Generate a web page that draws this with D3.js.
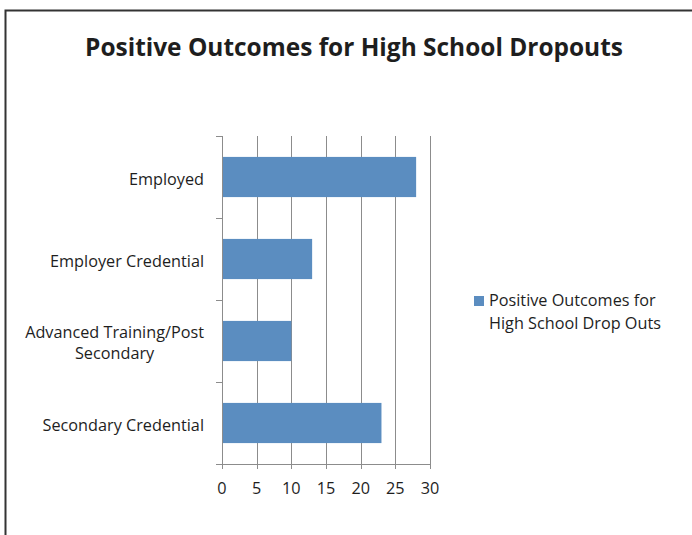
<!DOCTYPE html>
<html><head><meta charset="utf-8">
<script src="https://cdn.jsdelivr.net/npm/d3@7/dist/d3.min.js"></script>
<style>body{margin:0;background:#fff}svg{display:block}text{font-family:"Open Sans",Lato,sans-serif;fill:#1e1e1e}</style>
</head><body><svg id="c" width="692" height="535"></svg>
<script>
const title = "Positive Outcomes for High School Dropouts";
const categories = ["Employed", "Employer Credential", "Advanced Training/Post Secondary", "Secondary Credential"];
const categoryLines = [["Employed"], ["Employer Credential"], ["Advanced Training/Post", "Secondary"], ["Secondary Credential"]];
const values = [28, 13, 10, 23];
const xTicks = [0, 5, 10, 15, 20, 25, 30];
const seriesName = ["Positive Outcomes for", "High School Drop Outs"];

const svg = d3.select("#c");
function fit(sel, target) {
  const w = sel.node().getComputedTextLength();
  const fs = parseFloat(sel.style("font-size"));
  return fs * target / w;
}
// border (top and left)
svg.append("path").attr("d", "M5.5,535 V10.5 H692").attr("fill", "none").attr("stroke", "#333").attr("stroke-width", 2);

const t = svg.append("text").attr("x", 354).attr("y", 56).attr("text-anchor", "middle")
  .style("font-size", "22px").style("font-weight", "bold").text(title);
t.style("font-size", fit(t, 538) + "px");

const x = d3.scaleLinear().domain([0, 30]).range([222, 430]);
const y = d3.scaleBand().domain(categories).range([136, 464]).paddingInner(0.51).paddingOuter(0.255);

// gridlines
svg.append("g").selectAll("line").data(xTicks.slice(1)).join("line")
  .attr("x1", d => Math.round(x(d)) + 0.5).attr("x2", d => Math.round(x(d)) + 0.5)
  .attr("y1", 136).attr("y2", 464).attr("stroke", "#8c8c8c").attr("stroke-width", 1);

// bars
svg.append("g").selectAll("rect").data(values).join("rect")
  .attr("x", x(0)).attr("y", (d, i) => y(categories[i]))
  .attr("width", d => x(d) - x(0)).attr("height", y.bandwidth())
  .attr("fill", "#5b8dc0");

// y axis line and ticks
const bandStep = (464 - 136) / categories.length;
svg.append("line").attr("x1", 222.5).attr("x2", 222.5).attr("y1", 136).attr("y2", 468).attr("stroke", "#8c8c8c");
svg.append("g").selectAll("line").data(d3.range(categories.length + 1)).join("line")
  .attr("x1", 216).attr("x2", 222).attr("y1", i => Math.round(136 + i * bandStep) + 0.5).attr("y2", i => Math.round(136 + i * bandStep) + 0.5)
  .attr("stroke", "#8c8c8c");
// x axis line
svg.append("line").attr("x1", 216).attr("x2", 430).attr("y1", 464.5).attr("y2", 464.5).attr("stroke", "#8c8c8c");
svg.append("g").selectAll("line").data(xTicks).join("line")
  .attr("x1", d => Math.round(x(d)) + 0.5).attr("x2", d => Math.round(x(d)) + 0.5)
  .attr("y1", 464).attr("y2", 469).attr("stroke", "#8c8c8c");

// measure label font size
const probe = svg.append("text").style("font-size", "14px").text("Employer Credential");
const lfs = fit(probe, 154);
probe.remove();

// x tick labels
svg.append("g").selectAll("text").data(xTicks).join("text")
  .attr("x", d => x(d)).attr("y", 494).attr("text-anchor", "middle")
  .style("font-size", lfs + "px").text(d => d);

// category labels: block right-aligned at 204, lines centered within block
const cl = svg.append("g").selectAll("text").data(categories).join("text")
  .attr("text-anchor", "middle").style("font-size", lfs + "px")
  .attr("y", (d, i) => y(d) + y.bandwidth() / 2 + 8 - (categoryLines[i].length - 1) * 11);
cl.each(function (d, i) {
  const el = d3.select(this);
  el.selectAll("tspan").data(categoryLines[i]).join("tspan")
    .attr("dy", (t, j) => j === 0 ? 0 : 21).text(t => t);
  let maxW = 0;
  el.selectAll("tspan").each(function () { maxW = Math.max(maxW, this.getComputedTextLength()); });
  el.selectAll("tspan").attr("x", 204 - maxW / 2);
});

// legend
svg.append("rect").attr("x", 474).attr("y", 296).attr("width", 10).attr("height", 10).attr("fill", "#5b8dc0");
svg.append("text").style("font-size", lfs + "px").selectAll("tspan").data(seriesName).join("tspan")
  .attr("x", 489).attr("y", (t, j) => 306 + j * 23).text(t => t);
</script></body></html>
